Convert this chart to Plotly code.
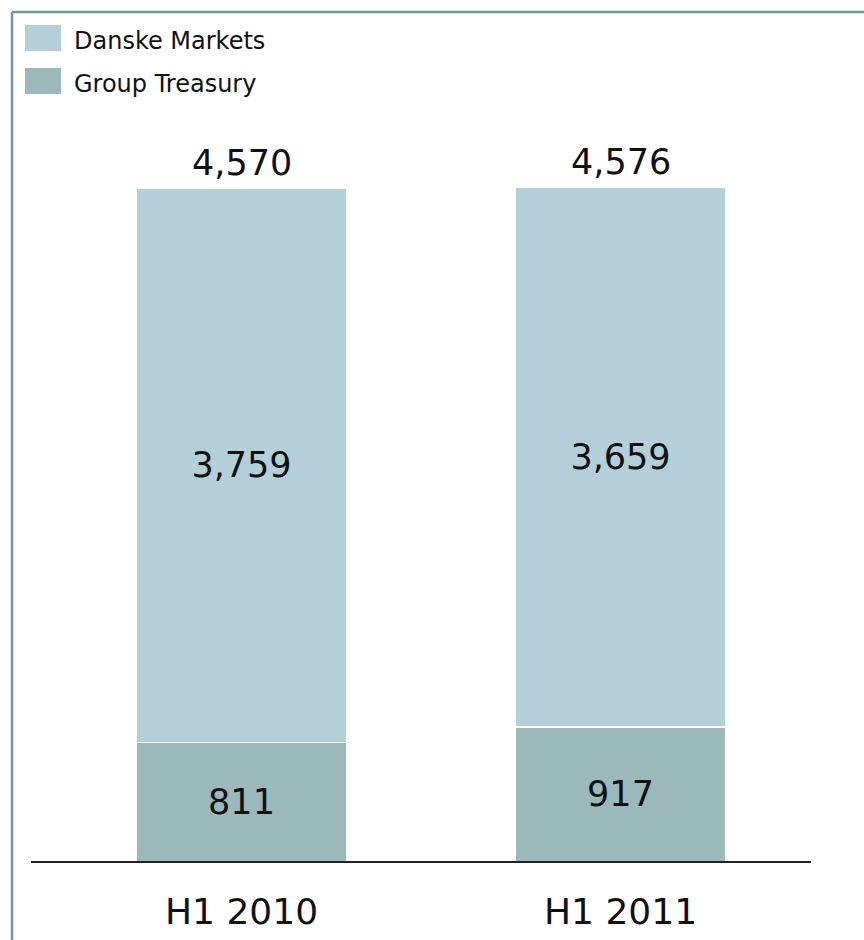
import plotly.graph_objects as go

# Trading income by unit, DKK m
periods = ["H1 2010", "H1 2011"]
group_treasury = [811, 917]
danske_markets = [3759, 3659]
totals = [4570, 4576]

series_names = ["Danske Markets", "Group Treasury"]
colors = {"Danske Markets": "#b4cfd9", "Group Treasury": "#9bb8bb"}

W, H = 864, 940
FONT = "DejaVu Sans"
x_pos = list(range(len(periods)))

fig = go.Figure()
fig.add_trace(go.Bar(
    x=x_pos, y=group_treasury, name="Group Treasury",
    marker=dict(color=colors["Group Treasury"], line=dict(color="white", width=1.5)),
    text=[f"{v:,}" for v in group_treasury], textposition="inside",
    insidetextanchor="middle", textfont=dict(size=35, color="#111", family=FONT),
    width=0.556, showlegend=False,
))
fig.add_trace(go.Bar(
    x=x_pos, y=danske_markets, name="Danske Markets",
    marker=dict(color=colors["Danske Markets"], line=dict(color="white", width=1.5)),
    text=[f"{v:,}" for v in danske_markets], textposition="inside",
    insidetextanchor="middle", textfont=dict(size=35, color="#111", family=FONT),
    width=0.556, showlegend=False,
))

annotations = []
# totals above each stack
for xi, t in zip(x_pos, totals):
    annotations.append(dict(x=xi, y=t, xref="x", yref="y", text=f"{t:,}",
                            showarrow=False, yanchor="bottom", yshift=3,
                            font=dict(size=35, color="#111", family=FONT)))
# category labels under the baseline
for xi, p in zip(x_pos, periods):
    annotations.append(dict(x=xi, y=-336, xref="x", yref="y", text=p,
                            showarrow=False, yanchor="middle",
                            font=dict(size=36, color="#111", family=FONT)))

shapes = []
# legend swatches and labels
for i, name in enumerate(series_names):
    top = 25 + i * 43
    shapes.append(dict(type="rect", xref="paper", yref="paper",
                       x0=25 / W, x1=61 / W, y0=1 - (top + 26) / H, y1=1 - top / H,
                       fillcolor=colors[name], line=dict(width=0)))
    annotations.append(dict(x=72 / W, y=1 - (top + 16) / H, xref="paper", yref="paper",
                            text=name, showarrow=False, xanchor="left", yanchor="middle",
                            font=dict(size=24, color="#111", family=FONT)))

# frame on the top and left edges
frame_col = "#7a949d"
shapes.append(dict(type="line", xref="paper", yref="paper",
                   x0=12 / W, x1=1, y0=1 - 12 / H, y1=1 - 12 / H,
                   line=dict(color=frame_col, width=2.5)))
shapes.append(dict(type="line", xref="paper", yref="paper",
                   x0=12 / W, x1=12 / W, y0=0, y1=1 - 12 / H,
                   line=dict(color=frame_col, width=2.5)))
# baseline
shapes.append(dict(type="line", xref="paper", yref="y",
                   x0=31 / W, x1=811 / W, y0=0, y1=0,
                   line=dict(color="#222", width=2)))

px_per_unit = 379.0
scale = 674 / 4570.0
fig.update_layout(
    width=W, height=H, barmode="stack",
    margin=dict(l=0, r=0, t=0, b=0),
    paper_bgcolor="white", plot_bgcolor="white",
    xaxis=dict(range=[-241.5 / px_per_unit, (W - 241.5) / px_per_unit],
               visible=False, fixedrange=True),
    yaxis=dict(range=[-(H - 862) / scale, 862 / scale],
               visible=False, fixedrange=True),
    shapes=shapes, annotations=annotations,
    uniformtext=dict(mode=False),
)

fig.write_html("out.html")
